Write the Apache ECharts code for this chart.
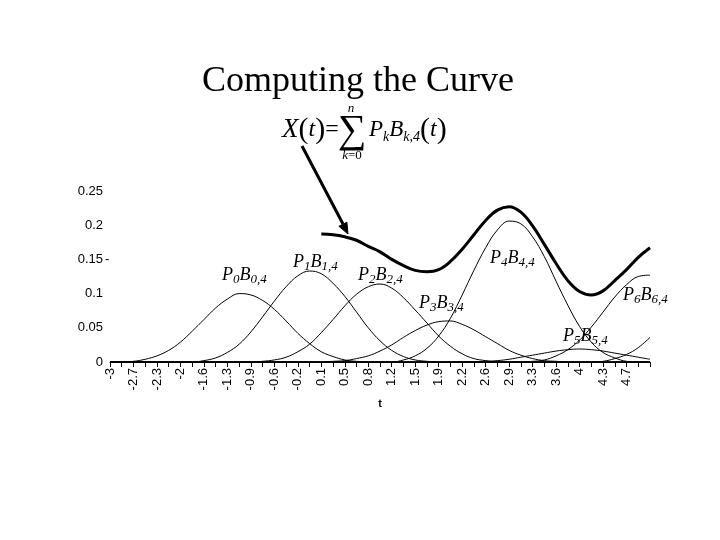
<!DOCTYPE html>
<html><head><meta charset="utf-8">
<script src="https://cdn.jsdelivr.net/npm/echarts@6/dist/echarts.min.js"></script>
<style>html,body{margin:0;padding:0;background:#fff}#chart{width:720px;height:540px}</style>
</head><body><div id="chart"></div>
<script>
// t labels on every other tick (t step 0.35); ticks every 0.175
const tLabels = ['-3','-2.7','-2.3','-2','-1.6','-1.3','-0.9','-0.6','-0.2','0.1','0.5','0.8','1.2','1.5','1.9','2.2','2.6','2.9','3.3','3.6','4','4.3','4.7',''];
const yTickLabels = ['0','0.05','0.1','0.15','0.2','0.25'];

// values read at every tick (47 ticks, t = -3 ... 5.05)
const p0b0 = [0,0,0.001,0.004,0.009,0.017,0.029,0.045,0.062,0.079,0.092,0.100,0.098,0.090,0.077,0.060,0.042,0.027,0.015,0.008,0.003,0.001,0,
  0,0,0,0,0,0,0,0,0,0,0,0,0,0,0,0,0,0,0,0,0,0,0,0];
const p1b1 = [0,0,0,0,0,0,0,0,0.002,0.006,0.014,0.026,0.044,0.066,0.089,0.110,0.126,0.133,0.129,0.115,0.096,0.073,0.050,0.031,0.017,0.008,0.003,0.001,
  0,0,0,0,0,0,0,0,0,0,0,0,0,0,0,0,0,0,0];
const p2b2 = [0,0,0,0,0,0,0,0,0,0,0,0,0,0.001,0.003,0.007,0.015,0.026,0.043,0.062,0.082,0.099,0.110,0.114,0.108,0.094,0.076,0.057,0.038,0.023,0.012,0.005,0.002,
  0,0,0,0,0,0,0,0,0,0,0,0,0,0];
const p3b3 = [0,0,0,0,0,0,0,0,0,0,0,0,0,0,0,0,0,0,0,0.001,0.002,0.005,0.009,0.016,0.025,0.036,0.046,0.054,0.059,0.060,0.055,0.047,0.037,0.027,0.017,0.010,0.005,0.002,0.001,
  0,0,0,0,0,0,0,0];
const p4b4 = [0,0,0,0,0,0,0,0,0,0,0,0,0,0,0,0,0,0,0,0,0,0,0,0,0,0.003,0.009,0.020,0.038,0.064,0.098,0.134,0.167,0.193,0.206,0.202,0.183,0.154,0.118,0.083,0.052,0.029,0.014,0.006,0.001,0,0];
const p5b5 = [0,0,0,0,0,0,0,0,0,0,0,0,0,0,0,0,0,0,0,0,0,0,0,0,0,0,0,0,0,0,0,0,0.001,0.002,0.004,0.007,0.010,0.013,0.016,0.018,0.019,0.018,0.016,0.013,0.010,0.007,0.004];
const p6b6 = [0,0,0,0,0,0,0,0,0,0,0,0,0,0,0,0,0,0,0,0,0,0,0,0,0,0,0,0,0,0,0,0,0,0,0,0,0.001,0.003,0.009,0.018,0.032,0.051,0.073,0.095,0.113,0.125,0.127];
const p7b7 = [0,0,0,0,0,0,0,0,0,0,0,0,0,0,0,0,0,0,0,0,0,0,0,0,0,0,0,0,0,0,0,0,0,0,0,0,0,0,0,0,0,0,0.001,0.005,0.011,0.021,0.036];
const curveX = [null,null,null,null,null,null,null,null,null,null,null,null,null,null,null,null,null,null,
  0.187,0.186,0.183,0.178,0.169,0.161,0.150,0.141,0.134,0.132,0.135,0.147,0.165,0.186,0.207,0.222,0.227,0.219,0.199,0.172,0.144,0.119,0.103,0.098,0.104,0.119,0.135,0.153,0.167];

const TICKS = 2 * (tLabels.length - 1);
const toPairs = arr => arr.map((v, i) => [i, v]).filter(p => p[1] !== null);

const serif = '"Liberation Serif","Times New Roman",serif';
const sans = '"Liberation Sans",Arial,sans-serif';

const thin = (data) => ({
  type: 'line', data: toPairs(data), smooth: 0.4, symbol: 'none', silent: true,
  lineStyle: { color: '#000', width: 1 }, z: 2
});

const basisLabel = (k) => '{m|P}{s|' + k + '}{m|B}{s|' + k + ',4}';
const basisRich = {
  m: { fontFamily: serif, fontStyle: 'italic', fontSize: 18, fill: '#000' },
  s: { fontFamily: serif, fontStyle: 'italic', fontSize: 13, fill: '#000', padding: [10, 0, 0, 0] }
};
const labelPos = [[222,275],[293,262],[358,275],[419,303],[490,258],[563,336],[623,295]];

const chart = echarts.init(document.getElementById('chart'), null, { renderer: 'canvas' });
const graphics = [
  { type: 'text', x: 358, y: 82, style: { text: 'Computing the Curve', fontFamily: serif, fontSize: 36, fill: '#000', align: 'center', verticalAlign: 'middle' } },
  { type: 'text', x: 282, y: 130, style: {
      text: '{X|X}{p|(}{t|t}{p|)}{e|=}', align: 'left', verticalAlign: 'middle',
      rich: {
        X: { fontFamily: serif, fontStyle: 'italic', fontSize: 27, fill: '#000' },
        p: { fontFamily: serif, fontSize: 30, fill: '#000' },
        t: { fontFamily: serif, fontStyle: 'italic', fontSize: 24, fill: '#000' },
        e: { fontFamily: serif, fontSize: 24, fill: '#000' }
      } } },
  { type: 'text', x: 352, y: 131, style: { text: '\u2211', fontFamily: serif, fontSize: 40, fill: '#000', align: 'center', verticalAlign: 'middle' } },
  { type: 'text', x: 351, y: 109, style: { text: 'n', fontFamily: serif, fontStyle: 'italic', fontSize: 13, fill: '#000', align: 'center', verticalAlign: 'middle' } },
  { type: 'text', x: 352, y: 156, style: { text: '{i|k}{r|=0}', align: 'center', verticalAlign: 'middle',
      rich: { i: { fontFamily: serif, fontStyle: 'italic', fontSize: 13, fill: '#000' }, r: { fontFamily: serif, fontSize: 13, fill: '#000' } } } },
  { type: 'text', x: 369, y: 130, style: {
      text: '{P|P}{s|k}{P|B}{s|k,4}{p|(}{t|t}{p|)}', align: 'left', verticalAlign: 'middle',
      rich: {
        P: { fontFamily: serif, fontStyle: 'italic', fontSize: 23, fill: '#000' },
        s: { fontFamily: serif, fontStyle: 'italic', fontSize: 14, fill: '#000', padding: [14, 0, 0, 0] },
        p: { fontFamily: serif, fontSize: 30, fill: '#000' },
        t: { fontFamily: serif, fontStyle: 'italic', fontSize: 24, fill: '#000' }
      } } },
  { type: 'line', shape: { x1: 302, y1: 146, x2: 343, y2: 224 }, style: { stroke: '#000', lineWidth: 3 } },
  { type: 'polygon', shape: { points: [[348,234],[338.9,226.3],[346.9,222.2]] }, style: { fill: '#000', stroke: '#000', lineWidth: 1 } }
];
labelPos.forEach((p, k) => {
  graphics.push({ type: 'text', x: p[0], y: p[1], z: 10, style: { text: basisLabel(k), rich: basisRich, align: 'left', verticalAlign: 'middle' } });
});

chart.setOption({
  animation: false,
  backgroundColor: '#fff',
  grid: { left: 110, right: 70, top: 191, bottom: 178, containLabel: false },
  xAxis: {
    type: 'value', min: 0, max: TICKS, interval: 1,
    name: 't', nameLocation: 'middle', nameGap: 36,
    nameTextStyle: { fontFamily: sans, fontSize: 11, fontWeight: 'bold', color: '#000' },
    axisLine: { lineStyle: { color: '#000', width: 1 } },
    axisTick: { length: 5, lineStyle: { color: '#000' } },
    axisLabel: { rotate: 90, margin: 6, fontFamily: sans, fontSize: 13, color: '#000',
      formatter: v => (v % 2 === 0 ? tLabels[v / 2] : '') },
    splitLine: { show: false }
  },
  yAxis: {
    type: 'value', min: 0, max: 0.25, interval: 0.05,
    axisLine: { show: false }, axisTick: { show: false }, splitLine: { show: false },
    axisLabel: { margin: 7, fontFamily: sans, fontSize: 13, color: '#000', formatter: (v, i) => yTickLabels[i] }
  },
  series: [
    thin(p0b0), thin(p1b1), thin(p2b2), thin(p3b3), thin(p4b4), thin(p5b5), thin(p6b6), thin(p7b7),
    { type: 'line', data: toPairs(curveX), smooth: 0.4, symbol: 'none', silent: true,
      lineStyle: { color: '#000', width: 3 }, z: 3 }
  ],
  graphic: graphics
});

// small dash after the 0.15 label
const yp = chart.convertToPixel({ yAxisIndex: 0 }, 0.15);
graphics.push({ type: 'text', x: 105, y: yp, style: { text: '-', fontFamily: sans, fontSize: 13, fill: '#000', align: 'left', verticalAlign: 'middle' } });
chart.setOption({ graphic: graphics });
</script></body></html>
